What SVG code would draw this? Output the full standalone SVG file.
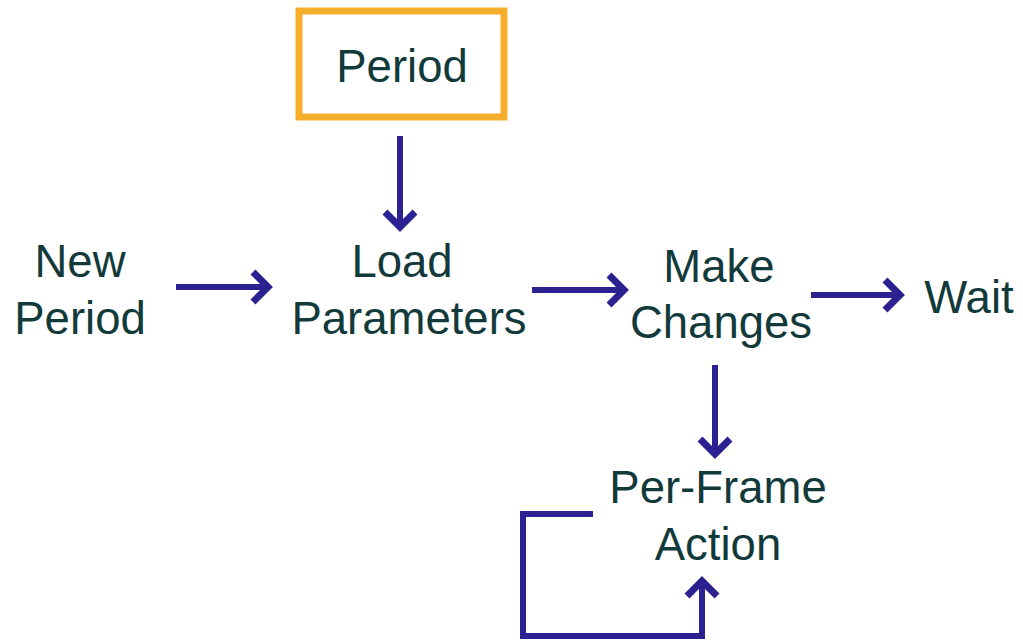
<svg xmlns="http://www.w3.org/2000/svg" width="1023" height="642" viewBox="0 0 1023 642">
  <style>
    .label { font-family: "Liberation Sans", Arial, sans-serif; font-size: 45.5px; fill: #123a3a; text-anchor: middle; }
    .edge { fill: none; stroke: #2b2190; stroke-width: 6; }
    .box { fill: #ffffff; stroke: #f6ae2d; stroke-width: 7; }
  </style>
  <defs>
    <marker id="chevron" markerUnits="userSpaceOnUse" markerWidth="44" markerHeight="44" viewBox="-22 -22 44 44" refX="0" refY="0" orient="auto">
      <path d="M -16 -15 L -1 0 L -16 15" fill="none" stroke="#2b2190" stroke-width="7" stroke-linejoin="miter"/>
    </marker>
  </defs>
  <rect width="1023" height="642" fill="#ffffff"/>

  <g id="node-period">
    <rect class="box" x="299" y="11" width="205" height="106"/>
    <text class="label" x="402" y="82">Period</text>
  </g>
  <g id="node-new-period">
    <text class="label" x="80" y="277">New</text>
    <text class="label" x="80" y="334">Period</text>
  </g>
  <g id="node-load-parameters">
    <text class="label" x="402" y="277">Load</text>
    <text class="label" x="409" y="334">Parameters</text>
  </g>
  <g id="node-make-changes">
    <text class="label" x="719" y="282">Make</text>
    <text class="label" x="721" y="338">Changes</text>
  </g>
  <g id="node-wait">
    <text class="label" x="969" y="313">Wait</text>
  </g>
  <g id="node-per-frame-action">
    <text class="label" x="718" y="503">Per-Frame</text>
    <text class="label" x="718" y="560">Action</text>
  </g>

  <g id="connectors">
    <path class="edge" d="M 400 136 L 400 228" marker-end="url(#chevron)"/>
    <path class="edge" d="M 176 287 L 269 287" marker-end="url(#chevron)"/>
    <path class="edge" d="M 532 290 L 625 290" marker-end="url(#chevron)"/>
    <path class="edge" d="M 811 295 L 901 295" marker-end="url(#chevron)"/>
    <path class="edge" d="M 715 365 L 715 455" marker-end="url(#chevron)"/>
    <path class="edge" d="M 593 514 L 523 514 L 523 636 L 702 636 L 702 580" marker-end="url(#chevron)"/>
  </g>
</svg>
